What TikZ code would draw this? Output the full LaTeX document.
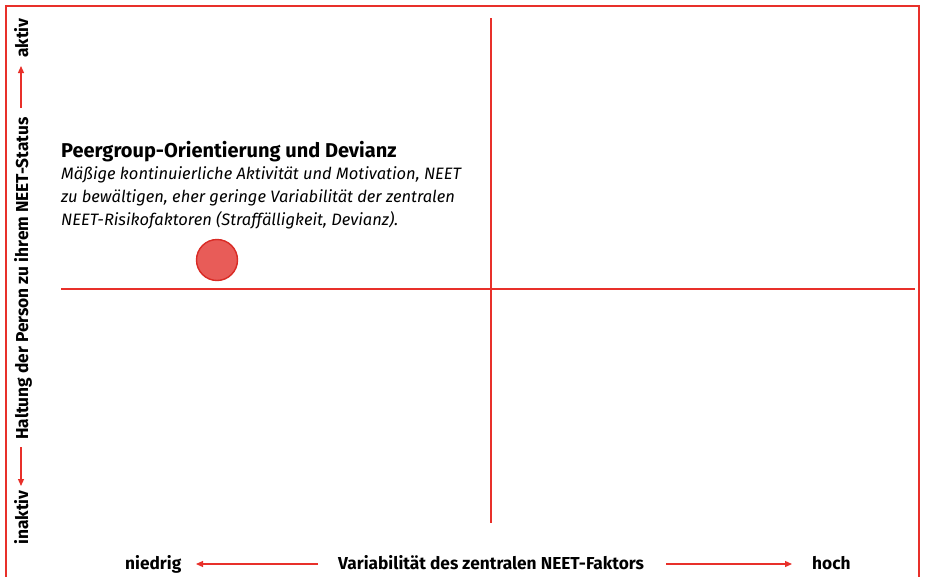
\documentclass[tikz,border=0pt]{standalone}
\usepackage{fontspec}
\setmainfont{Fira Sans}
\usetikzlibrary{arrows.meta}
\definecolor{rl}{HTML}{E8302A}
\definecolor{cf}{HTML}{E85C58}
\definecolor{cs}{HTML}{D92B25}
\tikzset{
  axisline/.style={draw=rl, line width=1.6pt},
  arr/.style={draw=rl, line width=1.2pt, -{Triangle[length=7pt,width=6pt]}},
  lab/.style={font=\fontsize{17.3}{19}\selectfont\bfseries, inner sep=0pt},
  desc/.style={anchor=base west, inner sep=0pt, font=\fontsize{16.5}{23}\selectfont\itshape},
}
\begin{document}
\begin{tikzpicture}[x=1pt,y=-1pt]
\useasboundingbox (0,0) rectangle (925,576);
% frame
\draw[draw=rl, line width=1.4pt] (6,577) -- (6,6) -- (919,6) -- (919,577);
% axes
\coordinate (vt) at (491,18);
\coordinate (vb) at (491,523);
\coordinate (hl) at (61,289);
\coordinate (hr) at (915,289);
\draw[axisline] (vt) -- (vb);
\draw[axisline] (hl) -- (hr);
% point
\node[circle, minimum size=41pt, inner sep=0pt, fill=cf, draw=cs, line width=1.4pt] (pt) at (217,260) {};
% text
\node[anchor=base west, inner sep=0pt, font=\fontsize{20}{22}\selectfont\bfseries] (title) at (61,157) {Peergroup-Orientierung und Devianz};
\node[desc] (d1) at (61,179) {Mäßige kontinuierliche Aktivität und Motivation, NEET};
\node[desc] (d2) at (61,202) {zu bewältigen, eher geringe Variabilität der zentralen};
\node[desc] (d3) at (61,225) {NEET-Risikofaktoren (Straffälligkeit, Devianz).};
% bottom axis labels
\node[lab, anchor=base west] (nied) at (125,569) {niedrig};
\node[lab, anchor=base west] (var) at (338,569) {Variabilität des zentralen NEET-Faktors};
\node[lab, anchor=base west] (hoch) at (812,569) {hoch};
\coordinate (la) at (318,564);
\coordinate (lt) at (196,564);
\coordinate (ra) at (666,564);
\coordinate (rt) at (792,564);
\draw[arr] (la) -- (lt);
\draw[arr] (ra) -- (rt);
% left axis labels
\node[lab, rotate=90, anchor=base west] (inak) at (28,545) {inaktiv};
\node[lab, rotate=90, anchor=base west] (halt) at (28,440) {Haltung der Person zu ihrem NEET-Status};
\node[lab, rotate=90, anchor=base west] (akt) at (28,58) {aktiv};
\coordinate (db) at (21,447);
\coordinate (dt) at (21,486);
\coordinate (ub) at (21,108);
\coordinate (ut) at (21,66);
\draw[arr] (db) -- (dt);
\draw[arr] (ub) -- (ut);
\end{tikzpicture}
\end{document}
